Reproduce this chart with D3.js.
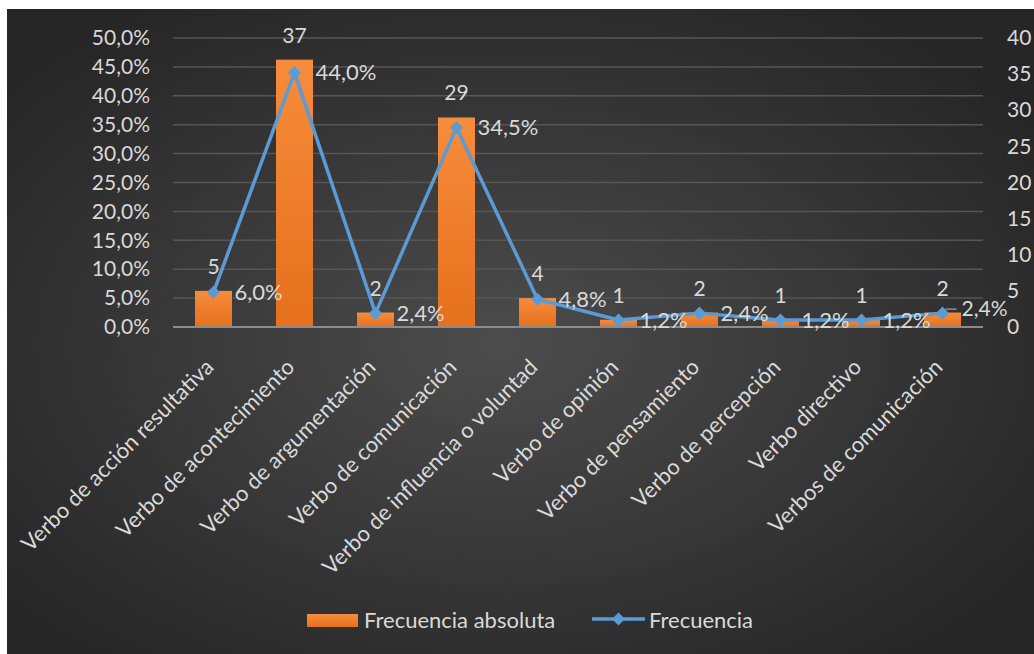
<!DOCTYPE html>
<html>
<head>
<meta charset="utf-8">
<script src="https://cdn.jsdelivr.net/npm/d3@7"></script>
<style>
  html, body { margin: 0; padding: 0; background: #ffffff; }
  svg { display: block; }
  text { font-family: Lato, "Open Sans", sans-serif; fill: #d9d9d9; }
</style>
</head>
<body>
<svg id="chart" width="1034" height="654"></svg>
<script>
// Verb categories along the x axis
const categories = [
  "Verbo de acción resultativa",
  "Verbo de acontecimiento",
  "Verbo de argumentación",
  "Verbo de comunicación",
  "Verbo de influencia o voluntad",
  "Verbo de opinión",
  "Verbo de pensamiento",
  "Verbo de percepción",
  "Verbo directivo",
  "Verbos de comunicación"
];
// Absolute frequency (bars, right axis)
const absoluta = [5, 37, 2, 29, 4, 1, 2, 1, 1, 2];
// Relative frequency in percent (line, left axis)
const frecuencia = [6.0, 44.0, 2.4, 34.5, 4.8, 1.2, 2.4, 1.2, 1.2, 2.4];
// Axis ticks
const leftTicks = [0, 5, 10, 15, 20, 25, 30, 35, 40, 45, 50];
const rightTicks = [0, 5, 10, 15, 20, 25, 30, 35, 40];
const seriesNames = ["Frecuencia absoluta", "Frecuencia"];

const svg = d3.select("#chart");
const W = 1034, H = 654;

const defs = svg.append("defs");
const bg = defs.append("radialGradient").attr("id", "bgGrad")
  .attr("cx", "48%").attr("cy", "52%").attr("r", "62%");
bg.append("stop").attr("offset", "0%").attr("stop-color", "#4c4c4c");
bg.append("stop").attr("offset", "100%").attr("stop-color", "#262626");

const barGrad = defs.append("linearGradient").attr("id", "barGrad")
  .attr("x1", 0).attr("y1", 0).attr("x2", 0).attr("y2", 1);
barGrad.append("stop").attr("offset", "0%").attr("stop-color", "#f68c3c");
barGrad.append("stop").attr("offset", "100%").attr("stop-color", "#e6701c");

// Chart area background
svg.append("rect").attr("x", 7).attr("y", 9)
  .attr("width", W - 7).attr("height", H - 9)
  .attr("fill", "url(#bgGrad)");

const plot = { left: 173, right: 983, top: 38, bottom: 327 };

const x = d3.scaleBand().domain(categories)
  .range([plot.left, plot.right]).paddingInner(0).paddingOuter(0);
const yLeft = d3.scaleLinear().domain([0, 50]).range([plot.bottom, plot.top]);
const yRight = d3.scaleLinear().domain([0, 40]).range([plot.bottom, plot.top]);

const fmtPct = v => d3.format(".1f")(v).replace(".", ",") + "%";

// Horizontal gridlines
svg.append("g").selectAll("line").data(leftTicks.filter(t => t > 0)).join("line")
  .attr("x1", plot.left).attr("x2", plot.right)
  .attr("y1", d => yLeft(d)).attr("y2", d => yLeft(d))
  .attr("stroke", "#565656").attr("stroke-width", 1.5);

// Left axis (percent)
const leftAxis = d3.axisLeft(yLeft).tickValues(leftTicks)
  .tickFormat(fmtPct).tickSize(0).tickPadding(23);
const gL = svg.append("g").attr("transform", `translate(${plot.left},0)`).call(leftAxis);
gL.select(".domain").remove();
gL.selectAll("text").attr("font-size", 21).attr("fill", "#d9d9d9")
  .style("font-family", "Lato, sans-serif");

// Right axis (counts)
const rightAxis = d3.axisRight(yRight).tickValues(rightTicks)
  .tickSize(0).tickPadding(24);
const gR = svg.append("g").attr("transform", `translate(${plot.right},0)`).call(rightAxis);
gR.select(".domain").remove();
gR.selectAll("text").attr("font-size", 21).attr("fill", "#d9d9d9")
  .style("font-family", "Lato, sans-serif");

// Bars
const barW = 37;
svg.append("g").selectAll("rect").data(absoluta).join("rect")
  .attr("x", (d, i) => x(categories[i]) + x.bandwidth() / 2 - barW / 2)
  .attr("y", d => yRight(d))
  .attr("width", barW)
  .attr("height", d => plot.bottom - yRight(d))
  .attr("fill", "url(#barGrad)");

// Baseline
svg.append("line")
  .attr("x1", plot.left).attr("x2", plot.right)
  .attr("y1", plot.bottom).attr("y2", plot.bottom)
  .attr("stroke", "#8c8c8c").attr("stroke-width", 2);

// Bar value labels
svg.append("g").selectAll("text").data(absoluta).join("text")
  .attr("x", (d, i) => x(categories[i]) + x.bandwidth() / 2)
  .attr("y", d => yRight(d) - 17)
  .attr("text-anchor", "middle")
  .attr("font-size", 21)
  .text(d => d);

// Line series
const cx = i => x(categories[i]) + x.bandwidth() / 2;
const line = d3.line().x((d, i) => cx(i)).y(d => yLeft(d));
svg.append("path").datum(frecuencia)
  .attr("d", line).attr("fill", "none")
  .attr("stroke", "#5b9bd5").attr("stroke-width", 3.5)
  .attr("stroke-linejoin", "round");

const diamond = d3.symbol().type(d3.symbolDiamond2).size(110);
svg.append("g").selectAll("path").data(frecuencia).join("path")
  .attr("transform", (d, i) => `translate(${cx(i)},${yLeft(d)})`)
  .attr("d", diamond)
  .attr("fill", "#5b9bd5");

// Leader for the last percentage label, which sits slightly raised
const last = frecuencia.length - 1;
svg.append("path")
  .attr("d", `M${cx(last) + 3},${yLeft(frecuencia[last]) - 4}h11`)
  .attr("stroke", "#a6a6a6").attr("stroke-width", 1.2).attr("fill", "none");

// Line value labels
svg.append("g").selectAll("text").data(frecuencia).join("text")
  .attr("x", (d, i) => cx(i) + (i === last ? 19 : 21))
  .attr("y", (d, i) => yLeft(d) + (i === last ? -4 : 0))
  .attr("dy", "0.35em")
  .attr("font-size", (d, i) => (i === last ? 21 : 22))
  .text(d => fmtPct(d));

// Category labels, rotated
svg.append("g").selectAll("text").data(categories).join("text")
  .attr("transform", d => `translate(${x(d) + x.bandwidth() / 2 - 4},${plot.bottom + 36}) rotate(-45)`)
  .attr("text-anchor", "end")
  .attr("dy", "0.35em")
  .attr("font-size", 22)
  .text(d => d);

// Legend
const lg = svg.append("g");
lg.append("rect").attr("x", 307).attr("y", 614).attr("width", 51).attr("height", 13)
  .attr("fill", "url(#barGrad)");
lg.append("text").attr("x", 364).attr("y", 620).attr("dy", "0.35em")
  .attr("font-size", 22).text(seriesNames[0]);
lg.append("line").attr("x1", 592).attr("x2", 645).attr("y1", 619).attr("y2", 619)
  .attr("stroke", "#5b9bd5").attr("stroke-width", 3.5);
lg.append("path").attr("transform", "translate(618.5,619)").attr("d", diamond)
  .attr("fill", "#5b9bd5");
lg.append("text").attr("x", 649).attr("y", 620).attr("dy", "0.35em")
  .attr("font-size", 22).text(seriesNames[1]);
</script>
</body>
</html>
